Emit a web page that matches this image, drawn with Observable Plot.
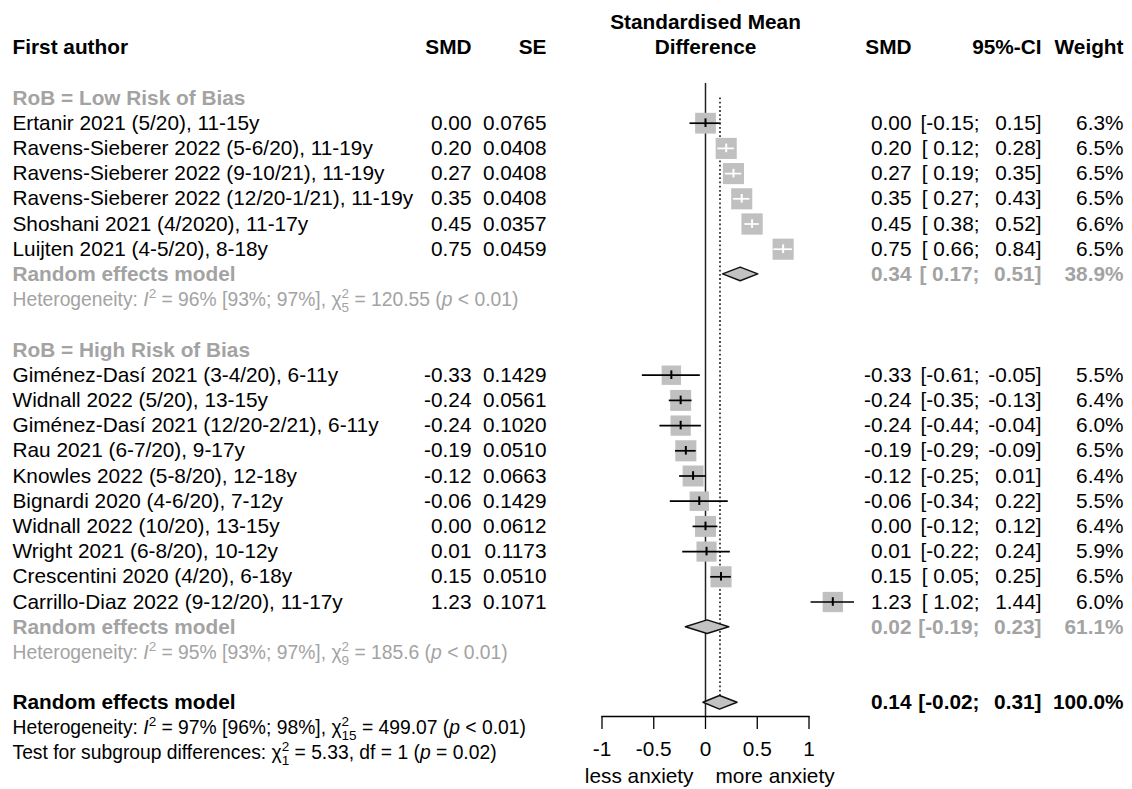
<!DOCTYPE html>
<html><head><meta charset="utf-8">
<script src="https://cdn.jsdelivr.net/npm/d3@7"></script>
<script src="https://cdn.jsdelivr.net/npm/@observablehq/plot@0.6"></script>
<style>body{margin:0;background:#fff}#chart svg{display:block}</style>
</head><body><div id="chart"></div>
<script>
// ---------- data ----------
const groupLabels = ["RoB = Low Risk of Bias", "RoB = High Risk of Bias"];

const lowAuthors = ["Ertanir 2021 (5/20), 11-15y","Ravens-Sieberer 2022 (5-6/20), 11-19y","Ravens-Sieberer 2022 (9-10/21), 11-19y","Ravens-Sieberer 2022 (12/20-1/21), 11-19y","Shoshani 2021 (4/2020), 11-17y","Luijten 2021 (4-5/20), 8-18y"];
const lowSMD    = [0.00, 0.20, 0.27, 0.35, 0.45, 0.75];
const lowSE     = [0.0765, 0.0408, 0.0408, 0.0408, 0.0357, 0.0459];
const lowLower  = [-0.15, 0.12, 0.19, 0.27, 0.38, 0.66];
const lowUpper  = [0.15, 0.28, 0.35, 0.43, 0.52, 0.84];
const lowWeight = [6.3, 6.5, 6.5, 6.5, 6.6, 6.5];

const highAuthors = ["Giménez-Dasí 2021 (3-4/20), 6-11y","Widnall 2022 (5/20), 13-15y","Giménez-Dasí 2021 (12/20-2/21), 6-11y","Rau 2021 (6-7/20), 9-17y","Knowles 2022 (5-8/20), 12-18y","Bignardi 2020 (4-6/20), 7-12y","Widnall 2022 (10/20), 13-15y","Wright 2021 (6-8/20), 10-12y","Crescentini 2020 (4/20), 6-18y","Carrillo-Diaz 2022 (9-12/20), 11-17y"];
const highSMD    = [-0.33, -0.24, -0.24, -0.19, -0.12, -0.06, 0.00, 0.01, 0.15, 1.23];
const highSE     = [0.1429, 0.0561, 0.1020, 0.0510, 0.0663, 0.1429, 0.0612, 0.1173, 0.0510, 0.1071];
const highLower  = [-0.61, -0.35, -0.44, -0.29, -0.25, -0.34, -0.12, -0.22, 0.05, 1.02];
const highUpper  = [-0.05, -0.13, -0.04, -0.09, 0.01, 0.22, 0.12, 0.24, 0.25, 1.44];
const highWeight = [5.5, 6.4, 6.0, 6.5, 6.4, 5.5, 6.4, 5.9, 6.5, 6.0];

const modelLabel   = "Random effects model";
const pooledSMD    = [0.34, 0.02, 0.14];   // low, high, overall
const pooledLower  = [0.17, -0.19, -0.02];
const pooledUpper  = [0.51, 0.23, 0.31];
const pooledWeight = [38.9, 61.1, 100.0];

const hetTexts = [
  "Heterogeneity: *I*^{2} = 96% [93%; 97%], χ^{2}_{5} = 120.55 (*p* < 0.01)",
  "Heterogeneity: *I*^{2} = 95% [93%; 97%], χ^{2}_{9} = 185.6 (*p* < 0.01)",
  "Heterogeneity: *I*^{2} = 97% [96%; 98%], χ^{2}_{15} = 499.07 (*p* < 0.01)"
];
const testText = "Test for subgroup differences: χ^{2}_{1} = 5.33, df = 1 (*p* = 0.02)";

const headers = {author: "First author", smdL: "SMD", se: "SE", smdR: "SMD", ciR: "95%-CI", weight: "Weight"};
const forestTitle = ["Standardised Mean", "Difference"];
const tickValues = [-1, -0.5, 0, 0.5, 1];
const axisLabels = ["less anxiety", "more anxiety"];

// ---------- layout ----------
const W = 1132, H = 789;
const FONT = "'Liberation Sans', Arial, Helvetica, sans-serif";
const FS = 20.8, FS_HET = 19.3, FS_SCRIPT = 13.5;
const GRAY = "#a3a3a3";
const ROW0 = 97.5, ROWH = 25.2;
const X0 = 705, PXU = 103.5;            // pixel of 0 and pixels per unit
const ML = X0 - PXU, MR = W - (X0 + PXU);
const MT = 83, MB = H - 716;
const COLX = {author: 12, smdL: 471, se: 546, smdR: 911, ciL: 979, ciR: 1041, weight: 1123};
const R_MAX = 12, W_MAX = d3.max([...lowWeight, ...highWeight]);
const DIAMOND_H = 0.27;

// ---------- build rows ----------
let row = 0;
const studies = [], groupRows = [], modelRows = [], hetRows = [];
function addGroup(gi, authors, smd, se, lo, hi, w) {
  groupRows.push({row: row++, text: groupLabels[gi]});
  authors.forEach((a, i) => studies.push({row: row++, author: a, est: smd[i], se: se[i], lo: lo[i], hi: hi[i], w: w[i]}));
  modelRows.push({row: row++, est: pooledSMD[gi], lo: pooledLower[gi], hi: pooledUpper[gi], w: pooledWeight[gi], color: GRAY});
  hetRows.push({row: row++, text: hetTexts[gi], color: GRAY});
  row++; // blank
}
addGroup(0, lowAuthors, lowSMD, lowSE, lowLower, lowUpper, lowWeight);
addGroup(1, highAuthors, highSMD, highSE, highLower, highUpper, highWeight);
const overall = {row: row++, est: pooledSMD[2], lo: pooledLower[2], hi: pooledUpper[2], w: pooledWeight[2], color: "#000"};
modelRows.push(overall);
hetRows.push({row: row++, text: hetTexts[2], color: "#000"});
hetRows.push({row: row++, text: testText, color: "#000"});
const lastRow = row - 1;

const side = w => Math.sqrt(Math.PI) * R_MAX * Math.sqrt(w / W_MAX);
studies.forEach(d => d.inside = (d.hi - d.lo) * PXU < 0.9 * side(d.w));

const diamondPts = modelRows.flatMap((d, k) => [
  {k, y: d.row - DIAMOND_H, x1: d.est, x2: d.est},
  {k, y: d.row, x1: d.lo, x2: d.hi},
  {k, y: d.row + DIAMOND_H, x1: d.est, x2: d.est}
]);

const fmtLo = v => "[" + (v < 0 ? "" : " ") + v.toFixed(2) + ";";
const fmtHi = v => v.toFixed(2) + "]";
const fmtW = v => v.toFixed(1) + "%";

function col(data, key, text, opts = {}) {
  return Plot.text(data, {
    y: "row", text, frameAnchor: "left", dx: COLX[key] - ML,
    textAnchor: key === "author" ? "start" : "end",
    fontSize: FS, fill: "#000", ...opts
  });
}

const headerRow = -2;
const bold = {fontWeight: "bold"};

const marks = [
  // axis
  Plot.frame({anchor: "bottom", stroke: "#000", strokeWidth: 1.3}),
  Plot.axisX({ticks: tickValues, tickFormat: d => String(d), tickSize: 13, tickPadding: 12, fontSize: FS, stroke: "#000", strokeWidth: 1.3, label: null}),
  Plot.text([axisLabels[0]], {x: 0, text: d => d, frameAnchor: "bottom", dy: 66, dx: -12, textAnchor: "end", fontSize: FS}),
  Plot.text([axisLabels[1]], {x: 0, text: d => d, frameAnchor: "bottom", dy: 66, dx: 10, textAnchor: "start", fontSize: FS}),
  // reference lines
  Plot.ruleX([0], {stroke: "#222", strokeWidth: 1.5}),
  Plot.ruleX([overall], {x: "est", y2: "row", stroke: "#222", strokeWidth: 1.6, strokeDasharray: "1.8,2.4"}),
  // squares
  Plot.dot(studies, {x: "est", y: "row", r: "w", symbol: "square", fill: "#c0c0c0", stroke: null}),
  // CIs
  Plot.ruleY(studies.filter(d => !d.inside), {y: "row", x1: "lo", x2: "hi", stroke: "#000", strokeWidth: 1.7}),
  Plot.ruleY(studies.filter(d => d.inside), {y: "row", x1: "lo", x2: "hi", stroke: "#fff", strokeWidth: 1.7}),
  Plot.ruleX(studies.filter(d => !d.inside), {x: "est", y1: d => d.row - 0.17, y2: d => d.row + 0.17, stroke: "#000", strokeWidth: 2}),
  Plot.ruleX(studies.filter(d => d.inside), {x: "est", y1: d => d.row - 0.17, y2: d => d.row + 0.17, stroke: "#fff", strokeWidth: 2}),
  // diamonds
  Plot.areaX(diamondPts, {y: "y", x1: "x1", x2: "x2", z: "k", fill: "#c2c2c2", stroke: "#111", strokeWidth: 1.5}),
  // header
  col([{row: headerRow}], "author", () => headers.author, bold),
  col([{row: headerRow}], "smdL", () => headers.smdL, bold),
  col([{row: headerRow}], "se", () => headers.se, bold),
  col([{row: headerRow}], "smdR", () => headers.smdR, bold),
  col([{row: headerRow}], "ciR", () => headers.ciR, bold),
  col([{row: headerRow}], "weight", () => headers.weight, bold),
  Plot.text([{row: headerRow - 1, t: forestTitle[0]}, {row: headerRow, t: forestTitle[1]}], {x: 0, y: "row", text: "t", fontSize: FS, fontWeight: "bold", fill: "#000"}),
  // group labels
  col(groupRows, "author", "text", {fill: GRAY, fontWeight: "bold"}),
  // studies
  col(studies, "author", "author"),
  col(studies, "smdL", d => d.est.toFixed(2)),
  col(studies, "se", d => d.se.toFixed(4)),
  col(studies, "smdR", d => d.est.toFixed(2)),
  col(studies, "ciL", d => fmtLo(d.lo)),
  col(studies, "ciR", d => fmtHi(d.hi)),
  col(studies, "weight", d => fmtW(d.w)),
  // pooled
  col(modelRows, "author", () => modelLabel, {fill: d => d.color, fontWeight: "bold"}),
  col(modelRows, "smdR", d => d.est.toFixed(2), {fill: d => d.color, fontWeight: "bold"}),
  col(modelRows, "ciL", d => fmtLo(d.lo), {fill: d => d.color, fontWeight: "bold"}),
  col(modelRows, "ciR", d => fmtHi(d.hi), {fill: d => d.color, fontWeight: "bold"}),
  col(modelRows, "weight", d => fmtW(d.w), {fill: d => d.color, fontWeight: "bold"}),
  // heterogeneity
  col(hetRows, "author", "text", {fill: d => d.color, fontSize: FS_HET})
];

const chart = Plot.plot({
  width: W, height: H,
  marginLeft: ML, marginRight: MR, marginTop: MT, marginBottom: MB,
  style: {fontFamily: FONT, fontSize: FS + "px", color: "#000", background: "#fff"},
  x: {domain: [-1, 1], axis: null, label: null},
  y: {domain: [0, lastRow], range: [ROW0, ROW0 + ROWH * lastRow], axis: null},
  r: {type: "sqrt", domain: [0, W_MAX], range: [0, R_MAX]},
  color: {type: "identity"},
  marks
});

// rich text: *italic*, ^{sup}, _{sub}
d3.select(chart).selectAll("text").each(function () {
  const s = this.textContent;
  if (!/[\^_]\{|\*/.test(s)) return;
  const el = d3.select(this);
  el.text(null);
  const tokens = s.split(/(\*[^*]+\*|\^\{[^}]*\}|_\{[^}]*\})/).filter(t => t);
  let level = 0, prevSup = null;
  const UP = -8, DOWN = 6;
  for (const t of tokens) {
    if (t.startsWith("^{")) {
      const c = t.slice(2, -1);
      el.append("tspan").attr("dy", UP - level).style("font-size", FS_SCRIPT + "px").text(c);
      level = UP; prevSup = c;
    } else if (t.startsWith("_{")) {
      const c = t.slice(2, -1);
      const ts = el.append("tspan").attr("dy", DOWN - level).style("font-size", FS_SCRIPT + "px").text(c);
      if (prevSup) ts.attr("dx", -(prevSup.length * 0.556 * FS_SCRIPT));
      level = DOWN; prevSup = null;
    } else {
      const italic = t.startsWith("*") && t.endsWith("*") && t.length > 2;
      const ts = el.append("tspan").text(italic ? t.slice(1, -1) : t);
      if (italic) ts.style("font-style", "italic");
      if (level) ts.attr("dy", -level);
      level = 0; prevSup = null;
    }
  }
});

document.getElementById("chart").appendChild(chart);
</script>
</body></html>
